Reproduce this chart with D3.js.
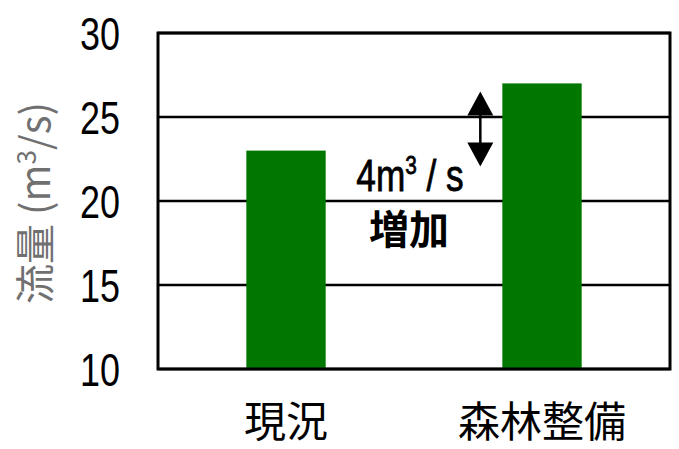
<!DOCTYPE html>
<html>
<head>
<meta charset="utf-8">
<script src="https://cdn.jsdelivr.net/npm/d3@7"></script>
<style>
  body { margin: 0; background: #fff; }
  svg { display: block; }
</style>
</head>
<body>
<svg id="chart" width="679" height="449"></svg>
<script>
// chart data
var categories = ["現況", "森林整備"];
var flows = [23, 27];
var yTicks = [10, 15, 20, 25, 30];
var increase = 4;

var svg = d3.select("#chart");
var margin = { left: 158, right: 9, top: 33, bottom: 80 };
var width = 679 - margin.left - margin.right,
    height = 449 - margin.top - margin.bottom;

var g = svg.append("g")
  .attr("transform", "translate(" + margin.left + "," + margin.top + ")");

var x = d3.scaleBand().domain(categories).range([0, width]).paddingInner(0.69).paddingOuter(0.345);
var y = d3.scaleLinear().domain([10, 30]).range([height, 0]);

// grid lines
g.selectAll("line.grid")
  .data(yTicks)
  .enter().append("line")
    .attr("class", "grid")
    .attr("x1", 0).attr("x2", width)
    .attr("y1", function(d) { return y(d); })
    .attr("y2", function(d) { return y(d); })
    .attr("stroke", "#000")
    .attr("stroke-width", 2.5);

// bars
g.selectAll("rect.bar")
  .data(flows)
  .enter().append("rect")
    .attr("class", "bar")
    .attr("x", function(d, i) { return x(categories[i]); })
    .attr("width", x.bandwidth())
    .attr("y", function(d) { return y(d); })
    .attr("height", function(d) { return y(10) - y(d); })
    .attr("fill", "#007800");

// frame
g.append("rect")
  .attr("width", width).attr("height", height)
  .attr("fill", "none")
  .attr("stroke", "#000")
  .attr("stroke-width", 3);

// y axis labels (narrow digits like the original)
var yAxis = d3.axisLeft(y).tickValues(yTicks).tickSize(0).tickPadding(38);
g.append("g").call(yAxis)
  .call(function(a) {
    a.select(".domain").remove();
    a.selectAll("text")
      .attr("font-family", "'Liberation Sans', sans-serif")
      .attr("font-size", 46)
      .attr("fill", "#000")
      .attr("dy", "0.36em")
      .attr("textLength", 40)
      .attr("lengthAdjust", "spacingAndGlyphs");
  });

// x axis labels
var xAxis = d3.axisBottom(x).tickSize(0).tickPadding(38);
g.append("g").attr("transform", "translate(0," + height + ")").call(xAxis)
  .call(function(a) {
    a.select(".domain").remove();
    a.selectAll("text")
      .attr("font-family", "'Noto Sans CJK JP', sans-serif")
      .attr("font-size", 42)
      .attr("fill", "#000");
  });

// y axis title
var title = svg.append("text")
  .attr("transform", "translate(50,203) rotate(-90)")
  .attr("text-anchor", "middle")
  .attr("font-family", "'Noto Sans CJK JP', sans-serif")
  .attr("font-size", 40)
  .attr("fill", "#707070");
title.append("tspan").text("流量 (m");
title.append("tspan").attr("font-size", 26).attr("dy", -14).text("3");
title.append("tspan").attr("dy", 14).text("/s)");

// increase arrow
var ax = x(categories[1]) - 22;
var y1 = y(flows[1]) + 8, y2 = y(flows[1] - increase) + 16;
var head = 24, hw = 13;
g.append("line")
  .attr("x1", ax).attr("x2", ax)
  .attr("y1", y1 + head - 2).attr("y2", y2 - head + 2)
  .attr("stroke", "#000").attr("stroke-width", 2.5);
g.append("path")
  .attr("d", "M" + ax + "," + y1 + "L" + (ax + hw) + "," + (y1 + head) + "L" + (ax - hw) + "," + (y1 + head) + "Z")
  .attr("fill", "#000");
g.append("path")
  .attr("d", "M" + ax + "," + y2 + "L" + (ax + hw) + "," + (y2 - head) + "L" + (ax - hw) + "," + (y2 - head) + "Z")
  .attr("fill", "#000");

// annotation text, squeezed horizontally
var note = g.append("text")
  .attr("transform", "translate(252,158) scale(0.8,1)")
  .attr("text-anchor", "middle")
  .attr("font-family", "'Liberation Sans', sans-serif")
  .attr("font-size", 44)
  .attr("fill", "#000")
  .attr("stroke", "#000")
  .attr("stroke-width", 0.8);
note.append("tspan").text(increase + "m");
note.append("tspan").attr("font-size", 26).attr("dy", -17).text("3");
note.append("tspan").attr("dy", 17).text(" / s");

g.append("text")
  .attr("x", 251).attr("y", 211)
  .attr("text-anchor", "middle")
  .attr("font-family", "'Noto Sans CJK JP', sans-serif")
  .attr("font-weight", "bold")
  .attr("font-size", 40)
  .attr("fill", "#000")
  .text("増加");
</script>
</body>
</html>
